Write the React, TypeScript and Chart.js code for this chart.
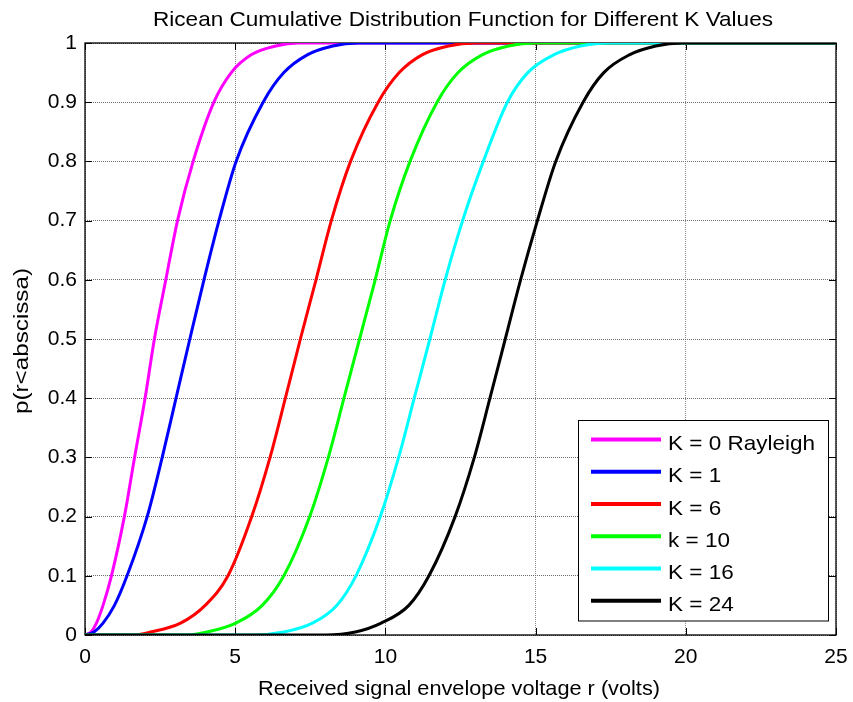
import React, { useEffect, useRef } from 'react';
import { Chart, registerables } from 'chart.js';

Chart.register(...registerables);

// ---- Data ----
const seriesLabels = ['K = 0 Rayleigh', 'K = 1', 'K = 6', 'k = 10', 'K = 16', 'K = 24'];
const seriesColors = ['#ff00ff', '#0000ff', '#ff0000', '#00ff00', '#00ffff', '#000000'];

// probability levels at which each curve's abscissa was read
const pLevels = [0, 0.005, 0.02, 0.05, 0.1, 0.2, 0.3, 0.4, 0.5, 0.6, 0.7, 0.8, 0.9, 0.95, 0.98, 0.995, 1, 1];

const rK0 = [0, 0.2, 0.38, 0.6, 0.88, 1.31, 1.65, 2.0, 2.31, 2.69, 3.08, 3.6, 4.29, 4.87, 5.53, 6.35, 7.1, 25];
const rK1 = [0, 0.3, 0.6, 0.98, 1.4, 2.07, 2.57, 3.03, 3.49, 3.96, 4.46, 5.03, 5.93, 6.62, 7.4, 8.25, 9.1, 25];
const rK6 = [1.6, 2.18, 3.18, 4.0, 4.76, 5.55, 6.16, 6.67, 7.17, 7.69, 8.2, 8.84, 9.76, 10.46, 11.22, 12.1, 13.0, 25];
const rK10 = [3.4, 4.06, 5.02, 5.9, 6.62, 7.48, 8.1, 8.62, 9.14, 9.66, 10.16, 10.82, 11.72, 12.42, 13.22, 14.1, 15.0, 25];
const rK16 = [5.6, 6.62, 7.57, 8.38, 9.02, 9.83, 10.44, 10.96, 11.48, 11.99, 12.57, 13.26, 14.06, 14.74, 15.6, 16.5, 17.5, 25];
const rK24 = [8.0, 9.0, 9.86, 10.78, 11.45, 12.32, 12.96, 13.48, 13.99, 14.5, 15.06, 15.67, 16.58, 17.27, 18.12, 19.0, 19.9, 25];

const seriesR = [rK0, rK1, rK6, rK10, rK16, rK24];

const xTickValues = [0, 5, 10, 15, 20, 25];
const yTickValues = [0, 0.1, 0.2, 0.3, 0.4, 0.5, 0.6, 0.7, 0.8, 0.9, 1];

const titleText = 'Ricean Cumulative Distribution Function for Different K Values';
const xLabelText = 'Received signal envelope voltage r (volts)';
const yLabelText = 'p(r<abscissa)';

const FONT = '"Liberation Sans", Arial, Helvetica, sans-serif';

const W = 853;
const H = 702;

function drawStretched(ctx: CanvasRenderingContext2D, text: string, cx: number, y: number, targetWidth: number) {
  const w = ctx.measureText(text).width;
  const s = targetWidth / w;
  ctx.save();
  ctx.translate(cx, y);
  ctx.scale(s, 1);
  ctx.textAlign = 'center';
  ctx.textBaseline = 'alphabetic';
  ctx.fillText(text, 0, 0);
  ctx.restore();
}

const decorPlugin = {
  id: 'matlabDecor',
  beforeDatasetsDraw(chart: any) {
    const { ctx, chartArea, scales } = chart;
    const { left, right, top, bottom } = chartArea;
    ctx.save();
    ctx.strokeStyle = '#000';
    ctx.lineWidth = 1.3;
    ctx.strokeRect(left, top, right - left, bottom - top);
    const tl = 7;
    ctx.lineWidth = 1;
    ctx.beginPath();
    xTickValues.forEach((v) => {
      const x = Math.round(scales.x.getPixelForValue(v)) + 0.5;
      ctx.moveTo(x, bottom);
      ctx.lineTo(x, bottom - tl);
      ctx.moveTo(x, top);
      ctx.lineTo(x, top + tl);
    });
    yTickValues.forEach((v) => {
      const y = Math.round(scales.y.getPixelForValue(v)) + 0.5;
      ctx.moveTo(left, y);
      ctx.lineTo(left + tl, y);
      ctx.moveTo(right, y);
      ctx.lineTo(right - tl, y);
    });
    ctx.stroke();
    ctx.restore();
  },
  afterDraw(chart: any) {
    const { ctx } = chart;
    ctx.save();
    ctx.fillStyle = '#000';
    ctx.font = `21px ${FONT}`;
    // title
    drawStretched(ctx, titleText, 463, 26, 620);
    // x label
    drawStretched(ctx, xLabelText, 459, 695, 402);
    // y label (rotated)
    ctx.save();
    ctx.translate(28, 341);
    ctx.rotate(-Math.PI / 2);
    drawStretched(ctx, yLabelText, 0, 0, 146);
    ctx.restore();

    // legend
    const bx = 578, by = 420.5, bw = 250, bh = 200.5;
    ctx.fillStyle = '#fff';
    ctx.fillRect(bx, by, bw, bh);
    ctx.strokeStyle = '#000';
    ctx.lineWidth = 1;
    ctx.strokeRect(bx + 0.5, by, bw, bh);
    const rowStart = 439.5;
    const rowStep = 32.25;
    ctx.font = `21px ${FONT}`;
    const legScale = 147 / ctx.measureText(seriesLabels[0]).width;
    seriesLabels.forEach((lab, i) => {
      const y = rowStart + i * rowStep;
      ctx.strokeStyle = seriesColors[i];
      ctx.lineWidth = 4;
      ctx.beginPath();
      ctx.moveTo(591, y);
      ctx.lineTo(661, y);
      ctx.stroke();
      ctx.save();
      ctx.fillStyle = '#000';
      ctx.translate(668, y + 10.5);
      ctx.scale(legScale, 1);
      ctx.textAlign = 'left';
      ctx.textBaseline = 'alphabetic';
      ctx.fillText(lab, 0, 0);
      ctx.restore();
    });
    ctx.restore();
  },
};

export default function App() {
  const canvasRef = useRef<HTMLCanvasElement | null>(null);

  useEffect(() => {
    const canvas = canvasRef.current;
    if (!canvas) return;
    const datasets = seriesLabels.map((label, i) => {
      const rs = seriesR[i];
      const pts = rs.map((r, j) => ({ x: r, y: pLevels[j] }));
      if (rs[0] > 0) pts.unshift({ x: 0, y: 0 });
      return {
        label,
        data: pts,
        borderColor: seriesColors[i],
        backgroundColor: seriesColors[i],
        borderWidth: 3,
        pointRadius: 0,
        fill: false,
        cubicInterpolationMode: 'monotone' as const,
        order: seriesLabels.length - i,
      };
    });

    const chart = new Chart(canvas, {
      type: 'line',
      data: { datasets },
      plugins: [decorPlugin],
      options: {
        animation: false,
        responsive: false,
        maintainAspectRatio: false,
        devicePixelRatio: 1,
        layout: { padding: { left: 0, right: 17, top: 43, bottom: 0 } },
        plugins: {
          legend: { display: false },
          title: { display: false },
          tooltip: { enabled: false },
        },
        scales: {
          x: {
            type: 'linear',
            min: 0,
            max: 25,
            afterFit: (s: any) => {
              s.height = 67;
              s.paddingLeft = 0;
              s.paddingRight = 0;
            },
            afterBuildTicks: (s: any) => {
              s.ticks = xTickValues.map((v) => ({ value: v }));
            },
            ticks: {
              color: '#000',
              font: { family: FONT, size: 21 },
              padding: 10,
              maxRotation: 0,
              callback: (v: any) => String(v),
            },
            grid: {
              color: '#8a8a8a',
              lineWidth: 1,
              drawTicks: false,
            },
            border: { display: false, dash: [1, 1] },
          },
          y: {
            type: 'linear',
            min: 0,
            max: 1,
            afterFit: (s: any) => {
              s.width = 85;
              s.paddingTop = 0;
              s.paddingBottom = 0;
            },
            afterBuildTicks: (s: any) => {
              s.ticks = yTickValues.map((v) => ({ value: v }));
            },
            ticks: {
              color: '#000',
              font: { family: FONT, size: 21 },
              padding: 8,
              callback: (v: any) => String(Number(Number(v).toFixed(1))),
            },
            grid: {
              color: '#6a6a6a',
              lineWidth: 1,
              drawTicks: false,
            },
            border: { display: false, dash: [1, 1] },
          },
        },
      },
    });
    return () => chart.destroy();
  }, []);

  return (
    <div style={{ position: 'absolute', left: 0, top: 0, width: W, height: H, background: '#fff' }}>
      <canvas ref={canvasRef} width={W} height={H} style={{ width: W, height: H, display: 'block' }} />
    </div>
  );
}
